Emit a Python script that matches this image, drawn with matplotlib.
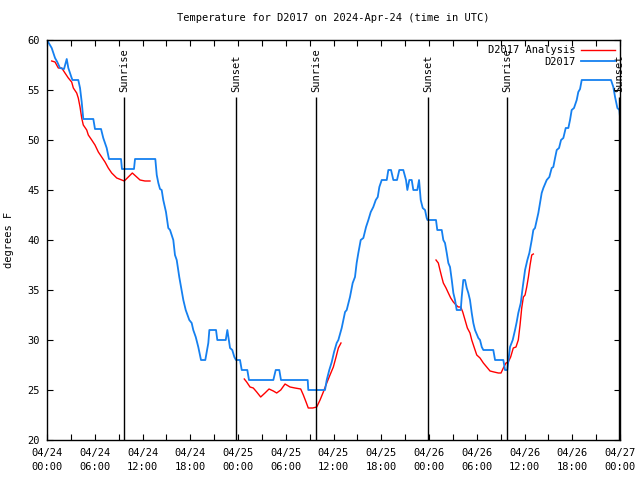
import numpy as np
import matplotlib
matplotlib.use("Agg")
import matplotlib.pyplot as plt
from matplotlib.ticker import FixedLocator

nan = np.nan

# Observed station temperature (hours since 2024-04-24 00:00 UTC, deg F)
obs_hours = [0.0, 0.59, 1.01, 1.29, 1.63, 2.14, 2.48, 2.68, 2.89, 3.10, 3.2, 3.93, 4.15, 4.36, 4.56,
             5.82, 6.03, 6.79, 7.07, 7.50, 7.79, 9.30, 9.42, 10.93, 11.06, 13.61, 13.79, 13.99, 14.20,
             14.41, 14.61, 14.95, 15.24, 15.46, 15.87, 16.08, 16.30, 16.62, 16.84, 17.13, 17.43, 17.88,
             18.18, 18.38, 18.69, 19.01, 19.35, 19.89, 20.27, 20.40, 21.24, 21.40, 22.46, 22.66, 23.00,
             23.28, 23.54, 23.75, 24.25, 24.47, 25.17, 25.38, 28.44, 28.74, 29.19, 29.40, 32.76, 32.83,
             34.93, 35.15, 35.47, 35.78, 36.07, 36.40, 36.61, 37.03, 37.45, 37.66, 38.07, 38.41, 38.70,
             38.91, 39.12, 39.42, 39.75, 40.09, 40.38, 40.68, 41.00, 41.31, 41.56, 41.76, 42.06, 42.69,
             42.89, 43.23, 43.52, 43.98, 44.27, 44.77, 45.11, 45.28, 45.53, 45.83, 46.03, 46.53, 46.75,
             46.96, 47.21, 47.50, 47.71, 47.81, 48.88, 49.04, 49.60, 49.80, 50.01, 50.23, 50.43, 50.64,
             50.86, 51.06, 51.27, 51.48, 51.99, 52.11, 52.31, 52.53, 52.74, 52.94, 53.15, 53.37, 53.57,
             53.78, 54.20, 54.41, 54.63, 54.83, 56.08, 56.30, 57.34, 57.55, 57.84, 58.18, 58.52, 58.81,
             59.02, 59.22, 59.53, 59.78, 60.07, 60.36, 60.61, 60.91, 61.11, 61.32, 61.54, 61.74, 61.95,
             62.16, 62.37, 62.79, 63.12, 63.42, 63.62, 63.84, 64.05, 64.34, 64.59, 64.88, 65.18, 65.51,
             65.72, 65.93, 66.22, 66.56, 66.76, 66.98, 67.19, 70.87, 71.16, 71.38, 71.67, 71.92, 72.0]
obs_temp = [60.0, 59.2, 58.2, 57.8, 57.2, 57.1, 58.1, 57.2, 56.7, 56.2, 56.0, 56.0, 55.2, 53.8, 52.1,
            52.1, 51.1, 51.1, 50.2, 49.2, 48.1, 48.1, 47.1, 47.1, 48.1, 48.1, 46.5, 45.7, 45.1,
            45.0, 44.0, 42.8, 41.2, 41.0, 40.0, 38.5, 38.0, 36.3, 35.3, 34.0, 33.0, 32.0,
            31.7, 31.0, 30.3, 29.3, 28.0, 28.0, 29.7, 31.0, 31.0, 30.0, 30.0, 31.0, 29.2,
            29.0, 28.3, 28.0, 28.0, 27.0, 27.0, 26.0, 26.0, 27.0, 27.0, 26.0, 26.0, 25.0,
            25.0, 26.0, 27.0, 27.8, 28.8, 29.7, 30.0, 31.2, 32.8, 33.0, 34.3, 35.7, 36.3,
            37.7, 38.7, 40.0, 40.2, 41.3, 42.0, 42.8, 43.3, 44.0, 44.3, 45.3, 46.0, 46.0,
            47.0, 47.0, 46.0, 46.0, 47.0, 47.0, 46.0, 45.0, 46.0, 46.0, 45.0, 45.0, 46.0,
            44.0, 43.2, 43.0, 42.2, 42.0, 42.0, 41.0, 41.0, 40.0, 39.7, 38.7, 37.7, 37.3,
            36.0, 34.7, 34.0, 33.0, 33.0, 34.3, 36.0, 36.0, 35.2, 34.7, 34.0, 32.7, 31.7,
            31.0, 30.2, 30.0, 29.3, 29.0, 29.0, 28.0, 28.0, 27.0, 27.0, 29.3, 30.0, 31.0,
            31.8, 32.7, 33.7, 35.3, 37.0, 38.0, 38.7, 40.0, 41.0, 41.2, 42.0, 42.7, 43.7,
            44.7, 45.2, 46.0, 46.3, 47.2, 47.3, 48.2, 49.0, 49.2, 50.0, 50.2, 51.2, 51.2,
            52.0, 53.0, 53.2, 54.0, 54.8, 55.1, 56.0, 56.0, 55.3, 54.3, 53.2, 53.0, 52.3]

# Analysis temperature (NaN separates the three analysis windows)
ana_hours = [0.59, 1.01, 1.42, 1.85, 2.26, 2.68, 3.10, 3.31, 3.73, 3.93, 4.15, 4.36, 4.56, 4.99, 5.19,
             5.62, 6.03, 6.45, 6.87, 7.29, 7.70, 8.13, 8.76, 9.71, 10.72, 11.69, 12.31, 12.94, nan,
             24.79, 25.09, 25.51, 25.92, 26.35, 26.85, 27.39, 27.90, 28.44, 28.86, 29.37, 29.91, 30.54,
             31.16, 31.88, 32.21, 32.55, 32.83, 33.39, 33.89, 34.31, 34.72, 35.15, 35.56, 35.98, 36.32,
             36.61, 36.94, nan,
             48.88, 49.17, 49.38, 49.60, 49.80, 50.14, 50.43, 50.73, 51.06, 51.40, 51.68, 51.99, 52.24,
             52.53, 52.82, 53.15, 53.37, 53.66, 54.00, 54.41, 54.83, 55.25, 55.67, 56.17, 56.71, 57.05,
             57.34, 57.67, 57.96, 58.26, 58.59, 58.93, 59.22, 59.44, 59.65, 59.86, 60.07, 60.28, 60.49,
             60.70, 60.91, 61.11]
ana_temp = [57.9, 57.8, 57.2, 57.2, 56.7, 56.2, 55.8, 55.2, 54.7, 54.2, 53.3, 52.2, 51.5, 51.0, 50.5,
            50.0, 49.5, 48.8, 48.3, 47.8, 47.2, 46.7, 46.2, 45.9, 46.7, 46.0, 45.9, 45.9, nan,
            26.1, 25.8, 25.3, 25.2, 24.8, 24.3, 24.7, 25.1, 24.9, 24.7, 25.0, 25.6, 25.3,
            25.2, 25.1, 24.5, 23.8, 23.2, 23.2, 23.3, 24.0, 24.8, 25.7, 26.5, 27.3, 28.3,
            29.2, 29.7, nan,
            38.0, 37.7, 37.0, 36.3, 35.7, 35.2, 34.7, 34.2, 33.8, 33.5, 33.3, 33.3, 32.8,
            32.0, 31.2, 30.7, 30.0, 29.3, 28.5, 28.2, 27.7, 27.3, 26.9, 26.8, 26.7, 26.7,
            27.2, 27.7, 27.8, 28.3, 29.2, 29.3, 30.0, 31.5, 33.2, 34.3, 34.5, 35.3, 36.3,
            37.5, 38.5, 38.6]

sun_hours = [9.68, 23.75, 33.80, 47.88, 57.80, 71.88]
sun_labels = ["Sunrise", "Sunset", "Sunrise", "Sunset", "Sunrise", "Sunset"]

xtick_hours = [0, 6, 12, 18, 24, 30, 36, 42, 48, 54, 60, 66, 72]
xtick_labels = ["04/24\n00:00", "04/24\n06:00", "04/24\n12:00", "04/24\n18:00",
                "04/25\n00:00", "04/25\n06:00", "04/25\n12:00", "04/25\n18:00",
                "04/26\n00:00", "04/26\n06:00", "04/26\n12:00", "04/26\n18:00",
                "04/27\n00:00"]
ytick_vals = [20, 25, 30, 35, 40, 45, 50, 55, 60]

FONT = "DejaVu Sans Mono"
FS = 7
plt.rcParams['font.family'] = [FONT]

fig = plt.figure(figsize=(6.4, 4.8), dpi=100)
ax = fig.add_axes([47 / 640, 40 / 480, 573 / 640, 400 / 480])

ax.plot(ana_hours, ana_temp, color="#ff0000", lw=1.0, label="D2017 Analysis")
ax.plot(obs_hours, obs_temp, color="#1580f0", lw=1.3, label="D2017")

ax.vlines(sun_hours, 20, 54.3, color="black", lw=1.0)
for h, lab in zip(sun_hours, sun_labels):
    ax.text(h, 54.8, lab, rotation=90, ha="center", va="bottom", fontsize=FS + 0.5, family=FONT)

ax.set_xlim(0, 72)
ax.set_ylim(20, 60)
ax.xaxis.set_major_locator(FixedLocator(xtick_hours))
ax.set_xticklabels(xtick_labels, fontsize=FS + 0.5, family=FONT, linespacing=1.5)
ax.xaxis.set_minor_locator(FixedLocator([h + 3 for h in xtick_hours[:-1]]))
ax.set_yticks(ytick_vals)
ax.set_yticklabels([str(v) for v in ytick_vals], fontsize=FS + 0.5, family=FONT)
ax.tick_params(which="both", direction="in", length=4, width=0.8, top=True, right=True)
ax.tick_params(axis="x", pad=6)
ax.tick_params(axis="y", pad=5)
for s in ax.spines.values():
    s.set_linewidth(1.0)

ax.set_ylabel("degrees F", fontsize=FS + 0.5, family=FONT, labelpad=10)
ax.set_title("Temperature for D2017 on 2024-Apr-24 (time in UTC)", fontsize=FS + 0.5,
             family=FONT, pad=14)

leg = ax.legend(loc="upper right", frameon=False, markerfirst=False, fontsize=FS + 0.5,
                handlelength=3.2, handletextpad=0.6, labelspacing=0.15,
                borderaxespad=0.3, borderpad=0.2)

fig.savefig("out.png", dpi=100)
